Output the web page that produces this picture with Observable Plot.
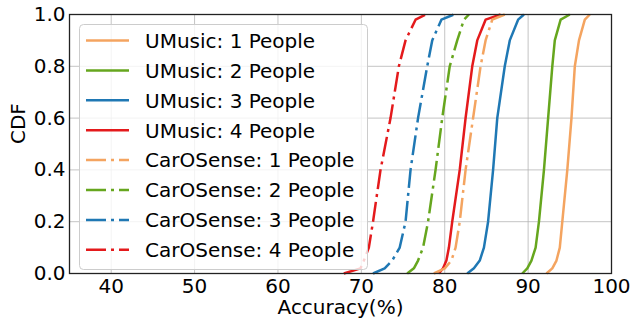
<!DOCTYPE html>
<html>
<head>
<meta charset="utf-8">
<script src="https://cdn.jsdelivr.net/npm/d3@7"></script>
<script src="https://cdn.jsdelivr.net/npm/@observablehq/plot@0.6"></script>
<style>
  html, body { margin: 0; padding: 0; background: white; }
  #chart { width: 631px; height: 322px; }
</style>
</head>
<body>
<div id="chart"></div>
<script>
// CDF levels at which each curve's accuracy was read
const cdfLevels = [0, 0.02, 0.05, 0.1, 0.2, 0.4, 0.6, 0.8, 0.9, 0.98, 1];

const seriesNames = [
  "UMusic: 1 People", "UMusic: 2 People", "UMusic: 3 People", "UMusic: 4 People",
  "CarOSense: 1 People", "CarOSense: 2 People", "CarOSense: 3 People", "CarOSense: 4 People"
];
const seriesColors = ["#F4A460", "#66A61E", "#1F78B4", "#E41A1C",
                      "#F4A460", "#66A61E", "#1F78B4", "#E41A1C"];
const seriesDashed = [false, false, false, false, true, true, true, true];

// accuracy (%) at each CDF level
const umusic1    = [92.2, 92.9, 93.4, 93.8, 94.1, 94.7, 95.2, 95.6, 96.1, 96.8, 97.4];
const umusic2    = [89.3, 89.9, 90.4, 90.9, 91.3, 91.9, 92.4, 92.9, 93.2, 93.9, 95.0];
const umusic3    = [82.7, 83.5, 84.2, 84.7, 85.2, 85.8, 86.3, 87.2, 87.8, 88.8, 89.5];
const umusic4    = [79.3, 79.8, 80.2, 80.5, 80.9, 81.8, 82.5, 83.3, 83.9, 84.9, 86.7];
const carosense1 = [78.7, 80.0, 80.8, 81.3, 81.8, 82.5, 83.4, 84.3, 84.9, 85.7, 87.2];
const carosense2 = [75.5, 76.3, 76.8, 77.4, 78.0, 78.9, 79.7, 80.6, 81.5, 82.3, 82.9];
const carosense3 = [71.4, 72.8, 73.7, 74.6, 75.3, 75.9, 76.8, 77.9, 78.5, 79.6, 81.1];
const carosense4 = [67.9, 69.9, 70.3, 70.9, 71.4, 72.3, 73.5, 74.5, 75.3, 76.5, 77.7];

const seriesValues = [umusic1, umusic2, umusic3, umusic4,
                      carosense1, carosense2, carosense3, carosense4];

const xTicks = [40, 50, 60, 70, 80, 90, 100];
const yTicks = [0, 0.2, 0.4, 0.6, 0.8, 1.0];
const xLabel = "Accuracy(%)";
const yLabel = "CDF";

const rows = seriesNames.flatMap((name, i) =>
  seriesValues[i].map((acc, j) => ({ series: name, acc, cdf: cdfLevels[j] })));

const DASH = "20,5,3,5";
const lineMarks = seriesNames.map((name, i) =>
  Plot.line(rows.filter(d => d.series === name), {
    x: "acc", y: "cdf", stroke: "series",
    strokeWidth: 2.5,
    strokeDasharray: seriesDashed[i] ? DASH : null,
    strokeLinecap: "butt", strokeLinejoin: "round"
  }));

const plot = Plot.plot({
  width: 631, height: 322,
  marginLeft: 69, marginRight: 20, marginTop: 14, marginBottom: 49,
  style: { fontFamily: "DejaVu Sans", fontSize: "20px", color: "black", background: "white" },
  x: { domain: [35, 100] },
  y: { domain: [0, 1] },
  color: { domain: seriesNames, range: seriesColors },
  marks: [
    Plot.gridX(xTicks, { stroke: "#b0b0b0", strokeOpacity: 0.75, strokeWidth: 1 }),
    Plot.gridY(yTicks, { stroke: "#b0b0b0", strokeOpacity: 0.75, strokeWidth: 1 }),
    ...lineMarks,
    Plot.frame({ stroke: "#222", strokeWidth: 1.3 }),
    Plot.axisX(xTicks, { tickSize: 0, tickPadding: 5, label: null, fontSize: 20 }),
    Plot.axisY(yTicks, { tickSize: 0, tickPadding: 4, label: null, fontSize: 20, tickFormat: d3.format(".1f") }),
    Plot.text([xLabel], { frameAnchor: "bottom", dy: 40, fontSize: 20 }),
    Plot.text([yLabel], { frameAnchor: "left", dx: -51, rotate: -90, fontSize: 20 })
  ]
});

document.getElementById("chart").appendChild(plot);

// Legend (inside plot, upper left), drawn on top like matplotlib
const svg = d3.select(plot);
const lg = svg.append("g")
  .attr("font-family", "DejaVu Sans").attr("font-size", 20)
  .attr("text-anchor", "start");
lg.append("rect")
  .attr("x", 79.5).attr("y", 24.5).attr("width", 288).attr("height", 245)
  .attr("rx", 4).attr("ry", 4)
  .attr("fill", "white").attr("fill-opacity", 0.8)
  .attr("stroke", "#cccccc").attr("stroke-width", 1);
seriesNames.forEach((name, i) => {
  const cy = 40.5 + i * 29.9;
  lg.append("line")
    .attr("x1", 86).attr("x2", 129).attr("y1", cy).attr("y2", cy)
    .attr("stroke", seriesColors[i]).attr("stroke-width", 2.5)
    .attr("stroke-dasharray", seriesDashed[i] ? DASH : null);
  lg.append("text")
    .attr("x", 145).attr("y", cy + 7.3)
    .attr("text-anchor", "start")
    .attr("fill", "black")
    .text(name);
});
</script>
</body>
</html>
